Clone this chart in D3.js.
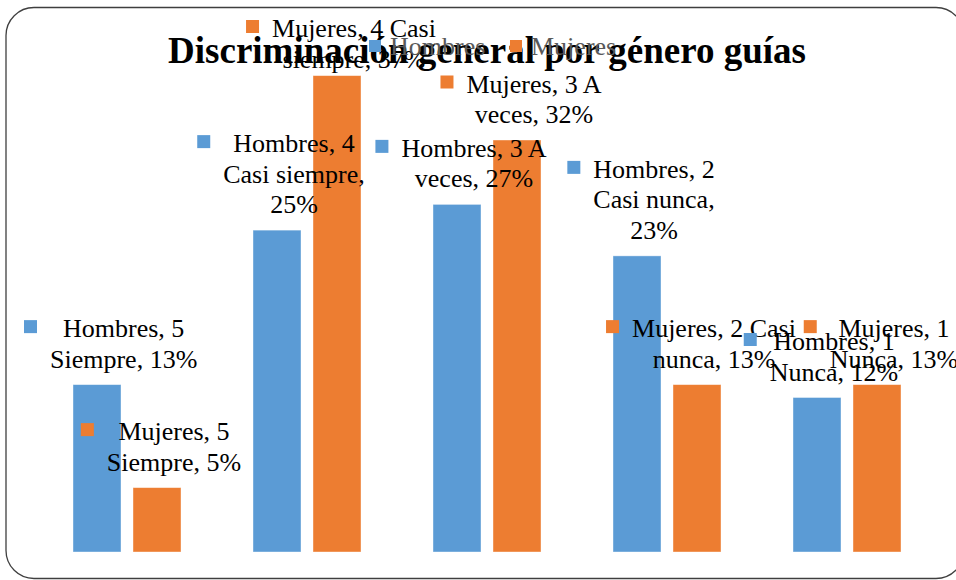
<!DOCTYPE html>
<html>
<head>
<meta charset="utf-8">
<script src="https://cdn.jsdelivr.net/npm/d3@7"></script>
<style>
  body{margin:0;background:#fff;}
  svg{display:block;}
  text{font-family:"Liberation Serif","Times New Roman",serif;}
</style>
</head>
<body>
<svg id="grafico" width="956" height="580"></svg>
<script>
// datos
var categorias = ["5 Siempre", "4 Casi siempre", "3 A veces", "2 Casi nunca", "1 Nunca"];
var series = ["Hombres", "Mujeres"];
var hombres = [13, 25, 27, 23, 12];
var mujeres = [5, 37, 32, 13, 13];
var colores = ["#5B9BD5", "#ED7D31"];
var titulo = "Discriminación general por género guías";

var svg = d3.select("#grafico");

// marco redondeado
svg.append("rect")
    .attr("x", 6).attr("y", 7.5)
    .attr("width", 958).attr("height", 571)
    .attr("rx", 28).attr("ry", 28)
    .attr("fill", "#fff")
    .attr("stroke", "#3f3f3f")
    .attr("stroke-width", 1.3);

var x0 = d3.scaleBand().domain(categorias).range([37, 937]).paddingInner(0.4).paddingOuter(0.2);
var x1 = d3.scaleBand().domain(series).range([0, x0.bandwidth()]).paddingInner(0.2);
var y = d3.scaleLinear().domain([0, 40]).range([552, 37]);
var color = d3.scaleOrdinal().domain(series).range(colores);

var filas = [];
categorias.forEach(function(c, i){
    filas.push({serie: "Hombres", cat: c, valor: hombres[i]});
    filas.push({serie: "Mujeres", cat: c, valor: mujeres[i]});
});

// barras
svg.append("g").selectAll("rect")
    .data(filas)
    .enter()
    .append("rect")
    .attr("x", function(d){ return x0(d.cat) + x1(d.serie); })
    .attr("y", function(d){ return y(d.valor); })
    .attr("width", x1.bandwidth())
    .attr("height", function(d){ return y(0) - y(d.valor); })
    .attr("fill", function(d){ return color(d.serie); })
    .attr("stroke", "#fff")
    .attr("stroke-opacity", 0.5)
    .attr("stroke-width", 0.8);

// titulo
svg.append("text")
    .attr("x", 487).attr("y", 63)
    .attr("text-anchor", "middle")
    .attr("font-size", 37)
    .attr("font-weight", "bold")
    .attr("fill", "#000")
    .text(titulo);

// etiquetas con clave de leyenda
var fs = 26, interlinea = 30.5, anchoMax = 169;
var medidor = svg.append("text").attr("font-size", fs).attr("visibility", "hidden");
function medir(t){
    medidor.text(t);
    return medidor.node().getComputedTextLength();
}
function partir(t){
    var palabras = t.split(" ");
    var lineas = [], actual = "";
    palabras.forEach(function(p){
        var prueba = actual ? actual + " " + p : p;
        if(actual && medir(prueba) > anchoMax){
            lineas.push(actual);
            actual = p;
        } else {
            actual = prueba;
        }
    });
    lineas.push(actual);
    return lineas;
}

var etiquetas = svg.append("g");
filas.forEach(function(d){
    var lineas = partir(d.serie + ", " + d.cat + ", " + d.valor + "%");
    var ancho = d3.max(lineas, medir);
    var cx = x0(d.cat) + x1(d.serie) + x1.bandwidth() / 2 + 17;
    var ultima = y(d.valor) - 17;
    var primera = ultima - (lineas.length - 1) * interlinea;
    if(primera < 37) primera = 37;
    var marcaX = cx - ancho / 2 - 26;
    if(marcaX < 24){ cx += 24 - marcaX; marcaX = 24; }

    var g = etiquetas.append("g");
    g.append("rect")
        .attr("x", marcaX).attr("y", primera - 17)
        .attr("width", 13).attr("height", 13)
        .attr("fill", color(d.serie));
    g.selectAll("text")
        .data(lineas)
        .enter()
        .append("text")
        .attr("x", cx)
        .attr("y", function(l, i){ return primera + i * interlinea; })
        .attr("text-anchor", "middle")
        .attr("font-size", fs)
        .attr("fill", "#000")
        .text(function(l){ return l; });
});
medidor.remove();

// leyenda
var leyX = [369, 510];
var leyenda = svg.append("g");
series.forEach(function(s, i){
    leyenda.append("rect")
        .attr("x", leyX[i]).attr("y", 40)
        .attr("width", 12).attr("height", 12)
        .attr("fill", color(s));
    leyenda.append("text")
        .attr("x", leyX[i] + 21).attr("y", 55)
        .attr("font-size", 26)
        .attr("fill", "#595959")
        .text(s);
});
</script>
</body>
</html>
